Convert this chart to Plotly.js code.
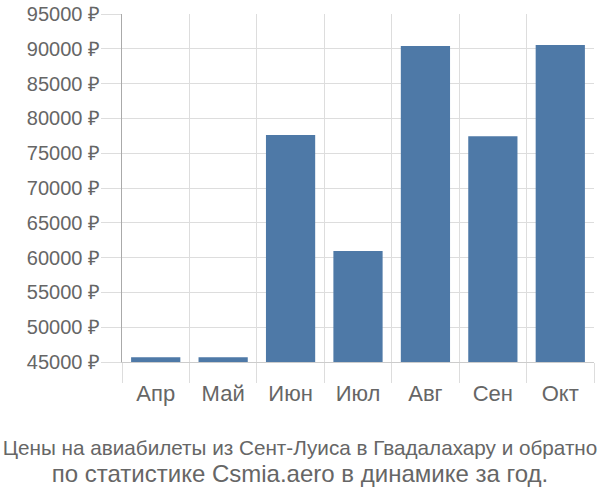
<!DOCTYPE html>
<html>
<head>
<meta charset="utf-8">
<script src="https://cdn.plot.ly/plotly-3.0.1.min.js"></script>
<style>html,body{margin:0;padding:0;background:#fff;}#chart{width:600px;height:500px;}</style>
</head>
<body>
<div id="chart"></div>
<script>
const months = ["Апр", "Май", "Июн", "Июл", "Авг", "Сен", "Окт"];
const prices = [45700, 45700, 77600, 60950, 90400, 77450, 90550];
const yTicks = [45000, 50000, 55000, 60000, 65000, 70000, 75000, 80000, 85000, 90000, 95000];
const titleLines = ["Цены на авиабилеты из Сент-Луиса в Гвадалахару и обратно", "по статистике Csmia.aero в динамике за год."];

const font = "Liberation Sans, Arial, sans-serif";
const trace = {
  type: "bar",
  x: months,
  y: prices,
  marker: {color: "#4e79a7"},
  hoverinfo: "x+y"
};
const layout = {
  width: 600, height: 500,
  margin: {l: 122, r: 6, t: 14, b: 138},
  paper_bgcolor: "#fff", plot_bgcolor: "#fff",
  bargap: 0.27,
  showlegend: false,
  font: {family: font, size: 20, color: "#666"},
  title: {
    text: titleLines[0] + "<br><span style=\"font-size:24px\">" + titleLines[1] + "</span>",
    font: {family: font, size: 20.7, color: "#666"},
    x: 0.5, xref: "container", xanchor: "center",
    y: 1 - 455/500, yref: "container", yanchor: "middle"
  },
  xaxis: {
    type: "category",
    tickson: "boundaries",
    ticks: "outside", ticklen: 20, tickcolor: "#ddd", tickwidth: 1,
    ticklabelstandoff: 12,
    showgrid: true, gridcolor: "#ddd", gridwidth: 1,
    showline: true, linecolor: "#ccc", linewidth: 1,
    tickfont: {family: font, size: 22, color: "#666"},
    fixedrange: true
  },
  yaxis: {
    range: [45000, 95000],
    tickvals: yTicks,
    ticktext: yTicks.map(v => v + " ₽"),
    ticks: "outside", ticklen: 20, tickcolor: "#ddd", tickwidth: 1,
    ticklabelstandoff: -3,
    showgrid: true, gridcolor: "#ddd", gridwidth: 1,
    showline: true, linecolor: "#aaa", linewidth: 1,
    zeroline: false,
    tickfont: {family: font, size: 20, color: "#666"},
    fixedrange: true
  }
};
Plotly.newPlot("chart", [trace], layout, {displayModeBar: false, staticPlot: true});
</script>
</body>
</html>
